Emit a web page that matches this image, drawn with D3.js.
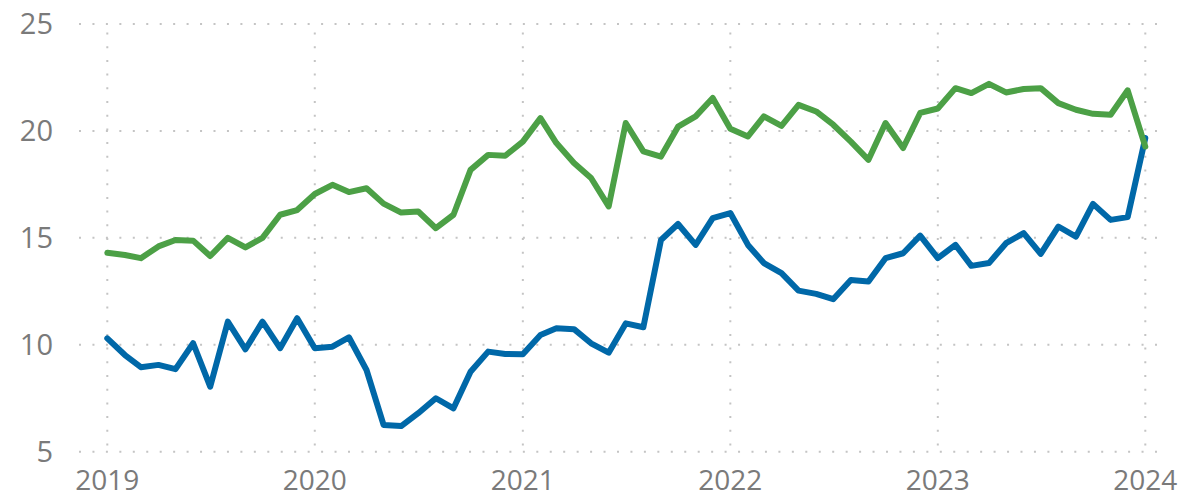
<!DOCTYPE html>
<html>
<head>
<meta charset="utf-8">
<script src="https://cdn.jsdelivr.net/npm/d3@7"></script>
<style>
  html, body { margin: 0; padding: 0; background: #ffffff; }
  svg { display: block; }
  text { font-family: "Open Sans", "Noto Sans", sans-serif; fill: #7a7a7a; }
</style>
</head>
<body>
<svg id="chart" width="1183" height="498"></svg>
<script>
// ---- data (monthly, Jan 2019 .. Jan 2024) ----
const startMonth = "2019-01";
const greenValues = [14.3,14.2,14.05,14.6,14.9,14.87,14.15,15.0,14.55,15.0,16.08,16.3,
  17.05,17.48,17.14,17.32,16.6,16.18,16.23,15.45,16.08,18.18,18.88,18.84,
  19.5,20.6,19.43,18.5,17.8,16.47,20.37,19.04,18.8,20.2,20.68,21.54,
  20.1,19.74,20.68,20.24,21.22,20.91,20.29,19.5,18.65,20.37,19.2,20.84,
  21.05,22.0,21.77,22.2,21.8,21.96,22.0,21.3,20.99,20.8,20.76,21.9,19.27];
const blueValues = [10.3,9.52,8.95,9.06,8.86,10.07,8.04,11.08,9.79,11.08,9.84,11.24,
  9.84,9.91,10.35,8.82,6.25,6.2,6.8,7.5,7.03,8.74,9.68,9.57,
  9.56,10.46,10.77,10.73,10.07,9.63,11.0,10.82,14.9,15.65,14.67,15.92,
  16.16,14.67,13.82,13.35,12.53,12.38,12.13,13.03,12.96,14.05,14.28,15.1,
  14.05,14.67,13.69,13.82,14.75,15.22,14.25,15.53,15.06,16.59,15.84,15.97,19.67];
const xTickYears = ["2019","2020","2021","2022","2023","2024"];
const yTicks = [5, 10, 15, 20, 25];

// ---- layout ----
const svg = d3.select("#chart");
const parseMonth = d3.timeParse("%Y-%m");
const t0 = parseMonth(startMonth);
const dates = greenValues.map((_, i) => d3.timeMonth.offset(t0, i));
const yearDates = xTickYears.map(y => d3.timeParse("%Y")(y));

const x = d3.scaleTime()
  .domain([yearDates[0], yearDates[yearDates.length - 1]])
  .range([107.3, 1145.3]);
const y = d3.scaleLinear().domain([5, 25]).range([451.7, 24]);

const gridColor = "#c4c4c4";

// horizontal gridlines
svg.append("g").selectAll("line").data(yTicks).join("line")
  .attr("x1", 79).attr("x2", 1162)
  .attr("y1", d => y(d)).attr("y2", d => y(d))
  .attr("stroke", gridColor).attr("stroke-width", 2)
  .attr("stroke-dasharray", "2,11.45");

// vertical gridlines
svg.append("g").selectAll("line").data(yearDates).join("line")
  .attr("x1", d => x(d)).attr("x2", d => x(d))
  .attr("y1", 32.5).attr("y2", 453)
  .attr("stroke", gridColor).attr("stroke-width", 2)
  .attr("stroke-dasharray", "2,11.7");

// y labels
svg.append("g").selectAll("text").data(yTicks).join("text")
  .attr("x", 53).attr("y", d => y(d))
  .attr("dy", "0.35em")
  .attr("text-anchor", "end")
  .attr("font-size", 29)
  .text(d => d);

// x labels
svg.append("g").selectAll("text").data(yearDates).join("text")
  .attr("x", d => x(d)).attr("y", 489.5)
  .attr("text-anchor", "middle")
  .attr("font-size", 28)
  .text((d, i) => xTickYears[i]);

const line = d3.line()
  .x((d, i) => x(dates[i]))
  .y(d => y(d));

svg.append("path").datum(blueValues)
  .attr("d", line)
  .attr("fill", "none")
  .attr("stroke", "#0068A8")
  .attr("stroke-width", 6)
  .attr("stroke-linejoin", "round")
  .attr("stroke-linecap", "round");

svg.append("path").datum(greenValues)
  .attr("d", line)
  .attr("fill", "none")
  .attr("stroke", "#4CA046")
  .attr("stroke-width", 6)
  .attr("stroke-linejoin", "round")
  .attr("stroke-linecap", "round");
</script>
</body>
</html>
